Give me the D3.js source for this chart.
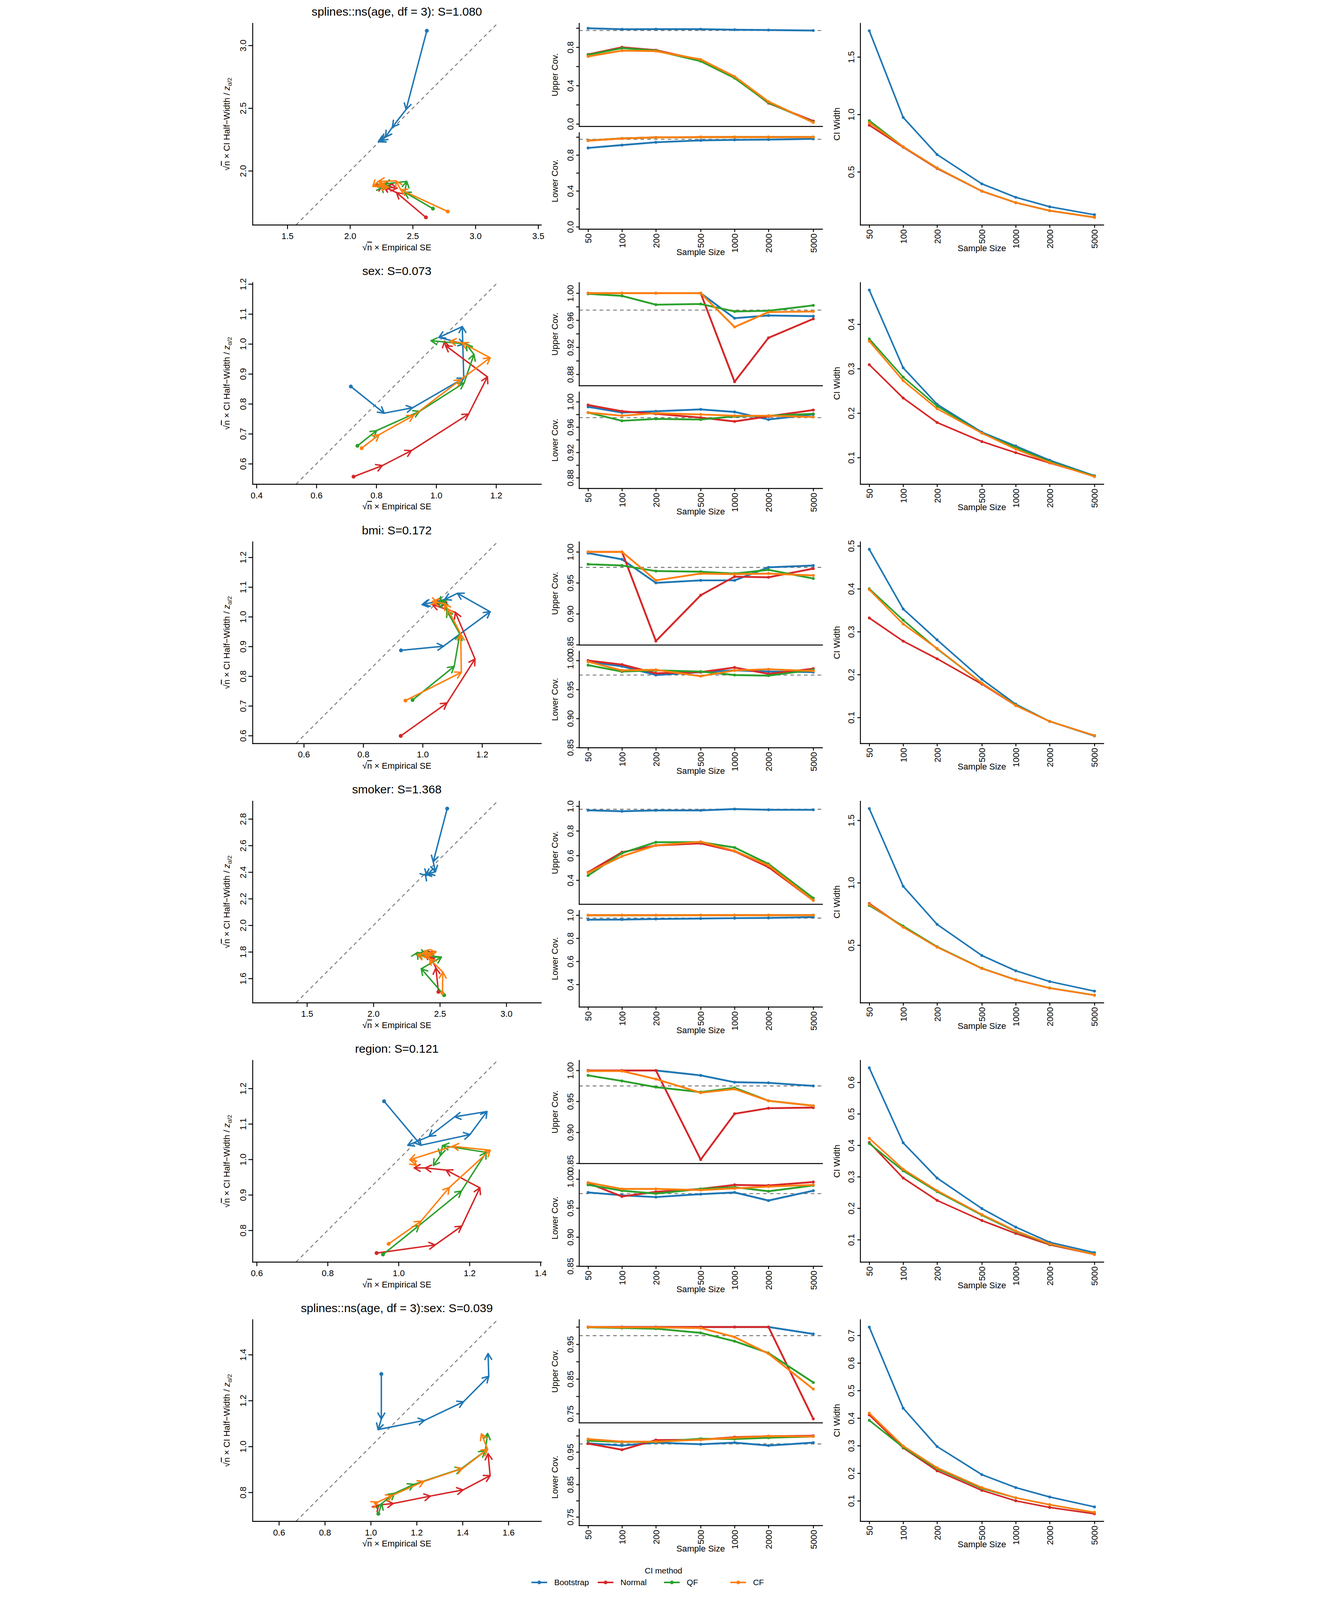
<!DOCTYPE html>
<html>
<head>
<meta charset="utf-8">
<script src="https://cdn.jsdelivr.net/npm/d3@7"></script>
<style>
  html, body { margin: 0; padding: 0; background: #fff; overflow: hidden; }
  #chart { display: block; width: 100vw; height: 100vh; }
  svg text { font-family: "Liberation Sans", Arial, Helvetica, sans-serif; }
</style>
</head>
<body>
<svg id="chart"></svg>
<script>
// ---- data ----
const sampleSizes = [50, 100, 200, 500, 1000, 2000, 5000];
const methods = ["Bootstrap", "Normal", "QF", "CF"];
const methodColors = ["#1f77b4", "#d62728", "#2ca02c", "#ff7f0e"];
const termTitles = [
  "splines::ns(age, df = 3): S=1.080",
  "sex: S=0.073",
  "bmi: S=0.172",
  "smoker: S=1.368",
  "region: S=0.121",
  "splines::ns(age, df = 3):sex: S=0.039"
];
const coverageTarget = 0.975;

// each array: one row per method (Bootstrap, Normal, QF, CF), one value per sample size
// sqrt(n) x empirical SE
const ageSE = [
  [2.612, 2.447, 2.338, 2.283, 2.248, 2.234, 2.226],
  [2.605, 2.370, 2.268, 2.375, 2.290, 2.250, 2.260],
  [2.661, 2.435, 2.452, 2.270, 2.220, 2.260, 2.250],
  [2.779, 2.405, 2.365, 2.225, 2.182, 2.304, 2.230]
];
// sqrt(n) x CI half-width / z
const ageHW = [
  [3.117, 2.490, 2.350, 2.270, 2.243, 2.237, 2.233],
  [1.629, 1.827, 1.875, 1.862, 1.878, 1.880, 1.885],
  [1.699, 1.830, 1.916, 1.895, 1.872, 1.870, 1.880],
  [1.676, 1.849, 1.920, 1.916, 1.876, 1.870, 1.895]
];
const ageUpper = [
  [0.998, 0.988, 0.989, 0.989, 0.983, 0.980, 0.975],
  [0.725, 0.800, 0.770, 0.665, 0.490, 0.217, 0.030],
  [0.721, 0.791, 0.765, 0.655, 0.479, 0.222, 0.020],
  [0.704, 0.765, 0.760, 0.673, 0.495, 0.233, 0.015]
];
const ageLower = [
  [0.879, 0.911, 0.942, 0.963, 0.969, 0.972, 0.980],
  [0.962, 0.985, 0.997, 1.000, 1.000, 1.000, 1.000],
  [0.961, 0.985, 0.996, 0.999, 1.000, 1.000, 1.000],
  [0.960, 0.984, 0.997, 1.000, 1.000, 1.000, 1.000]
];
const ageWidth = [
  [1.728, 0.974, 0.651, 0.396, 0.279, 0.197, 0.127],
  [0.906, 0.715, 0.530, 0.332, 0.232, 0.162, 0.104],
  [0.946, 0.719, 0.534, 0.333, 0.233, 0.163, 0.105],
  [0.927, 0.720, 0.535, 0.333, 0.233, 0.163, 0.105]
];

const sexSE = [
  [0.715, 0.826, 0.921, 1.092, 1.087, 1.009, 1.094],
  [0.724, 0.820, 0.917, 1.108, 1.171, 1.031, 1.028],
  [0.737, 0.801, 0.944, 1.093, 1.126, 1.100, 0.983],
  [0.751, 0.809, 0.924, 1.082, 1.180, 1.086, 1.046]
];
const sexHW = [
  [0.858, 0.769, 0.787, 0.886, 1.058, 1.022, 1.000],
  [0.557, 0.594, 0.644, 0.766, 0.890, 0.995, 1.009],
  [0.660, 0.711, 0.775, 0.870, 0.965, 1.000, 1.011],
  [0.652, 0.697, 0.761, 0.881, 0.954, 1.004, 1.009]
];
const sexUpper = [
  [1.000, 1.000, 1.000, 1.000, 0.963, 0.967, 0.966],
  [1.000, 1.000, 1.000, 1.000, 0.869, 0.934, 0.962],
  [0.999, 0.996, 0.983, 0.984, 0.973, 0.974, 0.982],
  [1.000, 1.000, 1.000, 1.000, 0.950, 0.972, 0.973]
];
const sexLower = [
  [0.992, 0.983, 0.985, 0.988, 0.984, 0.972, 0.980],
  [0.995, 0.985, 0.981, 0.975, 0.969, 0.977, 0.987],
  [0.983, 0.970, 0.973, 0.972, 0.977, 0.978, 0.981],
  [0.983, 0.978, 0.982, 0.980, 0.978, 0.978, 0.976]
];
const sexWidth = [
  [0.477, 0.302, 0.220, 0.157, 0.126, 0.094, 0.059],
  [0.309, 0.234, 0.179, 0.136, 0.111, 0.088, 0.058],
  [0.367, 0.281, 0.216, 0.155, 0.123, 0.091, 0.058],
  [0.362, 0.273, 0.210, 0.155, 0.119, 0.089, 0.057]
];

const bmiSE = [
  [0.927, 1.070, 1.227, 1.117, 1.074, 1.004, 0.998],
  [0.926, 1.082, 1.176, 1.110, 1.033, 1.081, 1.037],
  [0.966, 1.106, 1.125, 1.081, 1.066, 1.060, 1.050],
  [0.942, 1.130, 1.128, 1.084, 1.074, 1.033, 1.050]
];
const bmiHW = [
  [0.887, 0.901, 1.017, 1.079, 1.058, 1.042, 1.041],
  [0.599, 0.710, 0.858, 1.015, 1.041, 1.049, 1.052],
  [0.720, 0.833, 0.942, 1.021, 1.055, 1.045, 1.050],
  [0.718, 0.813, 0.942, 1.027, 1.044, 1.052, 1.048]
];
const bmiUpper = [
  [0.998, 0.988, 0.950, 0.954, 0.954, 0.975, 0.978],
  [1.000, 1.000, 0.856, 0.930, 0.960, 0.959, 0.973],
  [0.980, 0.978, 0.969, 0.968, 0.965, 0.971, 0.957],
  [1.000, 1.000, 0.954, 0.965, 0.964, 0.965, 0.962]
];
const bmiLower = [
  [0.998, 0.990, 0.975, 0.980, 0.983, 0.981, 0.980],
  [1.000, 0.993, 0.978, 0.980, 0.988, 0.977, 0.986],
  [0.992, 0.981, 0.983, 0.981, 0.975, 0.974, 0.984],
  [0.998, 0.983, 0.984, 0.973, 0.983, 0.985, 0.982]
];
const bmiWidth = [
  [0.492, 0.353, 0.281, 0.189, 0.131, 0.091, 0.057],
  [0.332, 0.278, 0.237, 0.178, 0.128, 0.091, 0.058],
  [0.400, 0.327, 0.260, 0.180, 0.129, 0.091, 0.058],
  [0.398, 0.318, 0.261, 0.180, 0.128, 0.091, 0.058]
];

const smokerSE = [
  [2.555, 2.450, 2.466, 2.413, 2.396, 2.390, 2.400],
  [2.489, 2.470, 2.429, 2.380, 2.453, 2.420, 2.400],
  [2.532, 2.360, 2.511, 2.323, 2.331, 2.400, 2.440],
  [2.519, 2.522, 2.421, 2.331, 2.470, 2.370, 2.430]
];
const smokerHW = [
  [2.878, 2.478, 2.403, 2.390, 2.378, 2.385, 2.375],
  [1.499, 1.679, 1.761, 1.786, 1.780, 1.785, 1.790],
  [1.474, 1.673, 1.761, 1.780, 1.796, 1.782, 1.785],
  [1.491, 1.648, 1.749, 1.780, 1.799, 1.785, 1.782]
];
const smokerUpper = [
  [0.967, 0.959, 0.966, 0.966, 0.977, 0.971, 0.971],
  [0.465, 0.627, 0.682, 0.699, 0.635, 0.506, 0.237],
  [0.438, 0.620, 0.708, 0.709, 0.665, 0.532, 0.255],
  [0.461, 0.594, 0.682, 0.712, 0.638, 0.520, 0.237]
];
const smokerLower = [
  [0.961, 0.962, 0.967, 0.971, 0.974, 0.976, 0.983],
  [1.000, 1.000, 1.000, 1.000, 1.000, 1.000, 1.000],
  [0.999, 0.999, 0.999, 1.000, 1.000, 1.000, 1.000],
  [1.000, 1.000, 1.000, 1.000, 1.000, 1.000, 1.000]
];
const smokerWidth = [
  [1.594, 0.972, 0.667, 0.417, 0.295, 0.209, 0.132],
  [0.834, 0.646, 0.486, 0.314, 0.222, 0.156, 0.099],
  [0.818, 0.653, 0.488, 0.315, 0.223, 0.157, 0.100],
  [0.828, 0.644, 0.484, 0.313, 0.222, 0.156, 0.099]
];

const regionSE = [
  [0.959, 1.063, 1.201, 1.249, 1.158, 1.086, 1.026],
  [0.938, 1.103, 1.178, 1.229, 1.134, 1.075, 1.044],
  [0.956, 1.058, 1.177, 1.247, 1.124, 1.118, 1.098],
  [0.972, 1.063, 1.143, 1.258, 1.152, 1.032, 1.050]
];
const regionHW = [
  [1.164, 1.040, 1.070, 1.135, 1.120, 1.065, 1.040],
  [0.736, 0.759, 0.812, 0.920, 0.970, 0.976, 0.976],
  [0.732, 0.814, 0.911, 1.020, 1.039, 1.011, 0.983],
  [0.762, 0.826, 0.921, 1.026, 1.037, 0.999, 0.983]
];
const regionUpper = [
  [1.000, 1.000, 1.000, 0.992, 0.981, 0.980, 0.975],
  [1.000, 1.000, 1.000, 0.856, 0.930, 0.939, 0.940],
  [0.992, 0.983, 0.973, 0.965, 0.972, 0.951, 0.943],
  [0.999, 0.999, 0.986, 0.964, 0.970, 0.951, 0.943]
];
const regionLower = [
  [0.977, 0.972, 0.969, 0.974, 0.977, 0.963, 0.980],
  [0.993, 0.970, 0.978, 0.983, 0.990, 0.989, 0.995],
  [0.990, 0.980, 0.975, 0.983, 0.986, 0.979, 0.989],
  [0.994, 0.983, 0.983, 0.981, 0.984, 0.987, 0.990]
];
const regionWidth = [
  [0.646, 0.408, 0.296, 0.199, 0.140, 0.092, 0.059],
  [0.409, 0.296, 0.225, 0.161, 0.120, 0.084, 0.053],
  [0.406, 0.319, 0.253, 0.178, 0.126, 0.086, 0.054],
  [0.422, 0.324, 0.256, 0.180, 0.128, 0.087, 0.053]
];

const ageSexSE = [
  [1.046, 1.046, 1.032, 1.234, 1.404, 1.514, 1.511],
  [1.028, 1.035, 1.098, 1.259, 1.402, 1.520, 1.511],
  [1.033, 1.048, 1.103, 1.188, 1.395, 1.499, 1.509],
  [1.022, 1.030, 1.093, 1.231, 1.399, 1.509, 1.482]
];
const ageSexHW = [
  [1.316, 1.120, 1.074, 1.114, 1.195, 1.306, 1.405],
  [0.738, 0.745, 0.752, 0.784, 0.811, 0.873, 0.969],
  [0.707, 0.752, 0.796, 0.835, 0.904, 0.981, 1.057],
  [0.754, 0.758, 0.787, 0.848, 0.904, 0.988, 1.055]
];
const ageSexUpper = [
  [1.000, 1.000, 1.000, 1.000, 1.000, 1.000, 0.980],
  [1.000, 1.000, 1.000, 1.000, 1.000, 1.000, 0.735],
  [0.999, 0.997, 0.995, 0.983, 0.959, 0.925, 0.840],
  [1.000, 0.999, 0.999, 0.997, 0.971, 0.923, 0.821]
];
const ageSexLower = [
  [0.977, 0.970, 0.979, 0.974, 0.979, 0.970, 0.979],
  [0.976, 0.957, 0.987, 0.988, 0.996, 0.999, 1.000],
  [0.985, 0.981, 0.981, 0.991, 0.990, 0.994, 0.998],
  [0.990, 0.982, 0.982, 0.988, 0.994, 0.999, 0.998]
];
const ageSexWidth = [
  [0.730, 0.436, 0.297, 0.195, 0.148, 0.114, 0.078],
  [0.412, 0.292, 0.209, 0.138, 0.100, 0.076, 0.053],
  [0.392, 0.294, 0.216, 0.145, 0.111, 0.086, 0.058],
  [0.418, 0.299, 0.220, 0.148, 0.111, 0.086, 0.058]
];

// tick spacing per row (as R's pretty() chose them)
const leftStepX = [0.5, 0.2, 0.2, 0.5, 0.2, 0.2];
const leftStepY = [0.5, 0.1, 0.1, 0.2, 0.1, 0.2];
const covStep = [0.2, 0.02, 0.05, 0.2, 0.05, 0.05];
const covLabelEvery = [2, 2, 1, 1, 1, 2];
const widthStep = [0.5, 0.1, 0.1, 0.5, 0.1, 0.1];

const rows = [
  { se: ageSE, hw: ageHW, up: ageUpper, lo: ageLower, wd: ageWidth },
  { se: sexSE, hw: sexHW, up: sexUpper, lo: sexLower, wd: sexWidth },
  { se: bmiSE, hw: bmiHW, up: bmiUpper, lo: bmiLower, wd: bmiWidth },
  { se: smokerSE, hw: smokerHW, up: smokerUpper, lo: smokerLower, wd: smokerWidth },
  { se: regionSE, hw: regionHW, up: regionUpper, lo: regionLower, wd: regionWidth },
  { se: ageSexSE, hw: ageSexHW, up: ageSexUpper, lo: ageSexLower, wd: ageSexWidth }
];

// ---- layout ----
const W = 3400, H = 6105;
const FONT = '"Liberation Sans", Arial, Helvetica, sans-serif';
const rowTop0 = 89, rowPitch = 989.3;
const LEFT = { x: 130, w: 1101, h: 769 };
const MID = { x: 1376, w: 928, upH: 393, loY: 417, loH: 368 };
const RIGHT = { x: 2449, w: 928, h: 769 };
const TICK = 33, LAB = 33;
const DASH = "#777777";

// the drawing is W x H user units; it is scaled to whatever viewport it gets
const svg = d3.select("#chart")
  .attr("viewBox", `0 0 ${W} ${H}`)
  .attr("preserveAspectRatio", "xMidYMin meet");
svg.append("rect").attr("width", W).attr("height", H).attr("fill", "#fff");

function stepTicks(dom, step) {
  const a = Math.ceil(dom[0] / step - 1e-9), b = Math.floor(dom[1] / step + 1e-9);
  return d3.range(a, b + 1).map(k => +(k * step).toFixed(6));
}
function decimals(step) { return Math.max(0, -Math.floor(Math.log10(step) + 1e-9)); }
function padded(lo, hi) { const p = (hi - lo) * 0.04; return [lo - p, hi + p]; }

function styleAxis(g) {
  g.attr("font-family", FONT).attr("font-size", TICK);
  g.select(".domain").attr("stroke-width", 3.5).attr("stroke-linecap", "square");
  g.selectAll(".tick line").attr("stroke-width", 3.5);
  g.selectAll(".tick text").attr("fill", "#000");
}
// labels parallel to a left axis (R default las = 0)
function rotateLeftLabels(g, off) {
  g.selectAll(".tick text")
    .attr("x", null).attr("dy", null)
    .attr("text-anchor", "middle")
    .attr("transform", `translate(${-off},0) rotate(-90)`);
}
// vertical labels under a bottom axis (las = 2)
function verticalBottomLabels(g, off) {
  g.selectAll(".tick text")
    .attr("y", null).attr("dy", null)
    .attr("text-anchor", "end")
    .attr("transform", `translate(12,${off}) rotate(-90)`);
}
function sqrtN(t) {
  t.append("tspan").text("\u221A");
  t.append("tspan").text("n").style("text-decoration", "overline");
}
function arrowHead(p0, p1, len, ang) {
  const a = Math.atan2(p1[1] - p0[1], p1[0] - p0[0]);
  const l = [p1[0] - len * Math.cos(a - ang), p1[1] - len * Math.sin(a - ang)];
  const r = [p1[0] - len * Math.cos(a + ang), p1[1] - len * Math.sin(a + ang)];
  return `M${l}L${p1}L${r}`;
}

const logDom = [Math.pow(10, Math.log10(50) - 0.08), Math.pow(10, Math.log10(5000) + 0.08)];

function drawLeft(row, i, top) {
  const g = svg.append("g").attr("transform", `translate(${LEFT.x},${top})`);
  const all = row.se.flat().concat(row.hw.flat());
  const yDom = padded(d3.min(all), d3.max(all));
  const c = (yDom[0] + yDom[1]) / 2;
  const half = (yDom[1] - yDom[0]) / 2 * (LEFT.w / LEFT.h);
  const x = d3.scaleLinear([c - half, c + half], [0, LEFT.w]);
  const y = d3.scaleLinear(yDom, [LEFT.h, 0]);

  g.append("line")
    .attr("x1", x(yDom[0])).attr("y1", y(yDom[0]))
    .attr("x2", x(yDom[1])).attr("y2", y(yDom[1]))
    .attr("stroke", DASH).attr("stroke-width", 3.5).attr("stroke-dasharray", "14,12");

  const fx = d3.format(`.${decimals(leftStepX[i])}f`);
  const fy = d3.format(`.${decimals(leftStepY[i])}f`);
  const ax = g.append("g").attr("transform", `translate(0,${LEFT.h})`)
    .call(d3.axisBottom(x).tickValues(stepTicks(x.domain(), leftStepX[i])).tickFormat(fx).tickSize(16).tickSizeOuter(0));
  styleAxis(ax);
  ax.selectAll(".tick text").attr("y", 54).attr("dy", null);
  const ay = g.append("g")
    .call(d3.axisLeft(y).tickValues(stepTicks(yDom, leftStepY[i])).tickFormat(fy).tickSize(16).tickSizeOuter(0));
  styleAxis(ay);
  rotateLeftLabels(ay, 25);

  methods.forEach((m, k) => {
    const pts = sampleSizes.map((n, j) => [x(row.se[k][j]), y(row.hw[k][j])]);
    const mg = g.append("g").attr("stroke", methodColors[k]).attr("fill", "none")
      .attr("stroke-width", 5.5).attr("stroke-linecap", "round").attr("stroke-linejoin", "round");
    d3.pairs(pts).forEach(([p0, p1]) => {
      mg.append("line").attr("x1", p0[0]).attr("y1", p0[1]).attr("x2", p1[0]).attr("y2", p1[1]);
      mg.append("path").attr("d", arrowHead(p0, p1, 26, Math.PI / 6));
    });
    g.append("circle").attr("cx", pts[0][0]).attr("cy", pts[0][1]).attr("r", 7.5)
      .attr("fill", methodColors[k]);
  });

  // labels
  svg.append("text").attr("x", LEFT.x + LEFT.w / 2).attr("y", top - 29)
    .attr("text-anchor", "middle").attr("font-size", 45).text(termTitles[i]);
  const xl = svg.append("text").attr("x", LEFT.x + LEFT.w / 2).attr("y", top + LEFT.h + 97)
    .attr("text-anchor", "middle").attr("font-size", LAB);
  sqrtN(xl);
  xl.append("tspan").text(" \u00D7 Empirical SE");
  const yl = svg.append("text").attr("text-anchor", "middle").attr("font-size", LAB)
    .attr("transform", `translate(${LEFT.x - 88},${top + LEFT.h / 2}) rotate(-90)`);
  sqrtN(yl);
  yl.append("tspan").text(" \u00D7 CI Half\u2212Width / ");
  yl.append("tspan").text("z").attr("font-style", "italic");
  yl.append("tspan").text("\u03B1/2").attr("font-size", 23).attr("dy", 8);
}

function drawCoverage(row, i, top) {
  const all = row.up.flat().concat(row.lo.flat());
  const dom = padded(d3.min(all), Math.max(d3.max(all), 1.01));
  const x = d3.scaleLog(logDom, [0, MID.w]);
  const ticks = stepTicks(dom, covStep[i]);
  const fmt = d3.format(`.${decimals(covStep[i])}f`);
  const every = covLabelEvery[i];

  [[row.up, 0, MID.upH, "Upper Cov."], [row.lo, MID.loY, MID.loH, "Lower Cov."]].forEach(([vals, oy, h, label], p) => {
    const g = svg.append("g").attr("transform", `translate(${MID.x},${top + oy})`);
    const y = d3.scaleLinear(dom, [h, 0]);
    g.append("line").attr("x1", 0).attr("x2", MID.w)
      .attr("y1", y(coverageTarget)).attr("y2", y(coverageTarget))
      .attr("stroke", DASH).attr("stroke-width", 3.5).attr("stroke-dasharray", "14,12");

    const xa = d3.axisBottom(x).tickSize(11).tickSizeOuter(0);
    if (p === 0) xa.tickValues([]);
    else xa.tickValues(sampleSizes).tickFormat(d3.format("d"));
    const ax = g.append("g").attr("transform", `translate(0,${h})`).call(xa);
    styleAxis(ax);
    if (p === 1) verticalBottomLabels(ax, 17);

    const ay = g.append("g").call(d3.axisLeft(y).tickValues(ticks)
      .tickFormat((d, j) => j % every === 0 ? fmt(d) : "").tickSize(11).tickSizeOuter(0));
    styleAxis(ay);
    rotateLeftLabels(ay, 22);

    const line = d3.line().x((d, j) => x(sampleSizes[j])).y(d => y(d));
    methods.forEach((m, k) => {
      g.append("path").attr("d", line(vals[k])).attr("fill", "none")
        .attr("stroke", methodColors[k]).attr("stroke-width", 7)
        .attr("stroke-linejoin", "round").attr("stroke-linecap", "round");
      g.append("g").selectAll("circle").data(vals[k]).join("circle")
        .attr("cx", (d, j) => x(sampleSizes[j])).attr("cy", d => y(d)).attr("r", 5.5)
        .attr("fill", methodColors[k]);
    });

    svg.append("text").attr("text-anchor", "middle").attr("font-size", LAB)
      .attr("transform", `translate(${MID.x - 81},${top + oy + h / 2}) rotate(-90)`)
      .text(label);
  });
  svg.append("text").attr("x", MID.x + MID.w / 2).attr("y", top + MID.loY + MID.loH + 100)
    .attr("text-anchor", "middle").attr("font-size", LAB).text("Sample Size");
}

function drawWidth(row, i, top) {
  const g = svg.append("g").attr("transform", `translate(${RIGHT.x},${top})`);
  const all = row.wd.flat();
  const dom = padded(d3.min(all), d3.max(all));
  const x = d3.scaleLog(logDom, [0, RIGHT.w]);
  const y = d3.scaleLinear(dom, [RIGHT.h, 0]);

  const ax = g.append("g").attr("transform", `translate(0,${RIGHT.h})`)
    .call(d3.axisBottom(x).tickValues(sampleSizes).tickFormat(d3.format("d")).tickSize(11).tickSizeOuter(0));
  styleAxis(ax);
  verticalBottomLabels(ax, 17);
  const ay = g.append("g").call(d3.axisLeft(y).tickValues(stepTicks(dom, widthStep[i]))
    .tickFormat(d3.format(`.${decimals(widthStep[i])}f`)).tickSize(11).tickSizeOuter(0));
  styleAxis(ay);
  rotateLeftLabels(ay, 23);

  const line = d3.line().x((d, j) => x(sampleSizes[j])).y(d => y(d));
  methods.forEach((m, k) => {
    g.append("path").attr("d", line(row.wd[k])).attr("fill", "none")
      .attr("stroke", methodColors[k]).attr("stroke-width", 6)
      .attr("stroke-linejoin", "round").attr("stroke-linecap", "round");
    g.append("g").selectAll("circle").data(row.wd[k]).join("circle")
      .attr("cx", (d, j) => x(sampleSizes[j])).attr("cy", d => y(d)).attr("r", 5.5)
      .attr("fill", methodColors[k]);
  });

  svg.append("text").attr("text-anchor", "middle").attr("font-size", LAB)
    .attr("transform", `translate(${RIGHT.x - 78},${top + RIGHT.h / 2}) rotate(-90)`)
    .text("CI Width");
  svg.append("text").attr("x", RIGHT.x + RIGHT.w / 2).attr("y", top + RIGHT.h + 100)
    .attr("text-anchor", "middle").attr("font-size", LAB).text("Sample Size");
}

rows.forEach((row, i) => {
  const top = rowTop0 + i * rowPitch;
  drawLeft(row, i, top);
  drawCoverage(row, i, top);
  drawWidth(row, i, top);
});

// ---- legend ----
const legend = svg.append("g").attr("font-size", 31);
legend.append("text").attr("x", 1698).attr("y", 6004).attr("text-anchor", "middle").text("CI method");
methods.forEach((m, k) => {
  const x0 = 1194 + k * 253, yy = 6038;
  legend.append("line").attr("x1", x0).attr("x2", x0 + 60).attr("y1", yy).attr("y2", yy)
    .attr("stroke", methodColors[k]).attr("stroke-width", 6);
  legend.append("circle").attr("cx", x0 + 30).attr("cy", yy).attr("r", 7).attr("fill", methodColors[k]);
  legend.append("text").attr("x", x0 + 87).attr("y", yy + 11).text(m);
});
</script>
</body>
</html>
